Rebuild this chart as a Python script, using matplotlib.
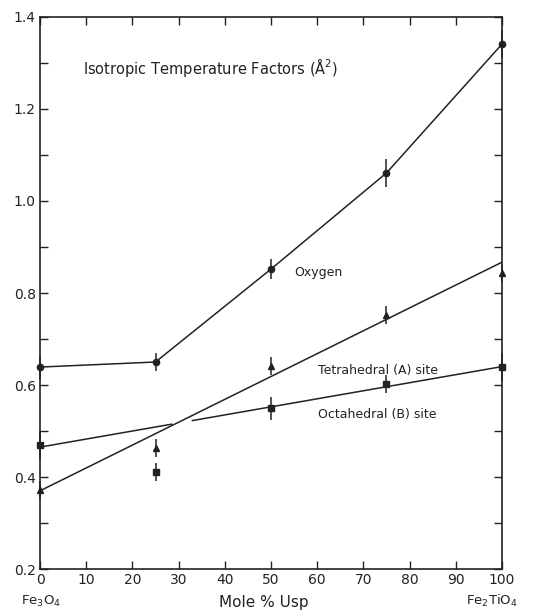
import numpy as np
import matplotlib.pyplot as plt
from matplotlib.ticker import MultipleLocator

# Datos
mole_usp = [0, 25, 50, 75, 100]
oxygen = [0.639, 0.650, 0.852, 1.061, 1.341]
oxygen_err = [0.025, 0.02, 0.022, 0.03, 0.03]
tetra = [0.372, 0.463, 0.641, 0.752, 0.843]
tetra_err = [0.02, 0.02, 0.02, 0.02, 0.02]
octa = [0.470, 0.411, 0.550, 0.602, 0.639]
octa_err = [0.03, 0.02, 0.025, 0.02, 0.03]

# Rectas ajustadas (extremos en 0 y 100)
fit_x = [0, 100]
tetra_fit = [0.370, 0.867]
octa_fit = [0.465, 0.640]
octa_gap = [28.5, 33]  # hueco donde se cruzan las rectas

fig = plt.figure(figsize=(5.35, 6.11), dpi=100)
ax = fig.add_axes([0.0748, 0.0687, 0.8635, 0.9035])

lw = 1.1
ax.plot(mole_usp, oxygen, color='#222222', lw=lw, zorder=2)
ax.plot(fit_x, tetra_fit, color='#222222', lw=lw, zorder=2)
xa = np.array([0, octa_gap[0]])
xb = np.array([octa_gap[1], 100])
ax.plot(xa, np.interp(xa, fit_x, octa_fit), color='#222222', lw=lw, zorder=2)
ax.plot(xb, np.interp(xb, fit_x, octa_fit), color='#222222', lw=lw, zorder=2)

ax.errorbar(mole_usp, oxygen, yerr=oxygen_err, fmt='o', ms=4.5, color='#222222',
            elinewidth=1.1, capsize=0, clip_on=False, zorder=3)
ax.errorbar(mole_usp, tetra, yerr=tetra_err, fmt='^', ms=5, color='#222222',
            elinewidth=1.1, capsize=0, clip_on=False, zorder=3)
ax.errorbar(mole_usp, octa, yerr=octa_err, fmt='s', ms=5, color='#222222',
            elinewidth=1.1, capsize=0, clip_on=False, zorder=3)

ax.set_xlim(0, 100)
ax.set_ylim(0.2, 1.4)
ax.xaxis.set_major_locator(MultipleLocator(10))
ax.yaxis.set_major_locator(MultipleLocator(0.2))
ax.yaxis.set_minor_locator(MultipleLocator(0.1))
ax.set_yticklabels([f'{v:.1f}' for v in ax.get_yticks()])
ax.tick_params(direction='in', which='both', top=True, right=True,
               labelsize=10, width=1.0, color='#222222', labelcolor='#222222')
ax.tick_params(which='major', length=6, pad=3)
ax.tick_params(which='minor', length=6)
ax.tick_params(axis='x', which='minor', top=False, bottom=False)
for s in ax.spines.values():
    s.set_linewidth(1.2)
    s.set_color('#222222')

ax.text(9.3, 1.29, 'Isotropic Temperature Factors (Å$^2$)', fontsize=10.5,
        va='center', ha='left', color='#222222')
ax.text(55, 0.845, 'Oxygen', fontsize=9, va='center', ha='left', color='#222222')
ax.text(60.2, 0.632, 'Tetrahedral (A) site', fontsize=9, va='center', ha='left', color='#222222')
ax.text(60.2, 0.535, 'Octahedral (B) site', fontsize=9, va='center', ha='left', color='#222222')

fig.text(41 / 535, 1 - 601 / 611, 'Fe$_3$O$_4$', fontsize=9.5, ha='center', va='center', color='#222222')
fig.text(264 / 535, 1 - 602 / 611, 'Mole % Usp', fontsize=11, ha='center', va='center', color='#222222')
fig.text(492 / 535, 1 - 601 / 611, 'Fe$_2$TiO$_4$', fontsize=9.5, ha='center', va='center', color='#222222')

fig.savefig('out.png', dpi=100)
